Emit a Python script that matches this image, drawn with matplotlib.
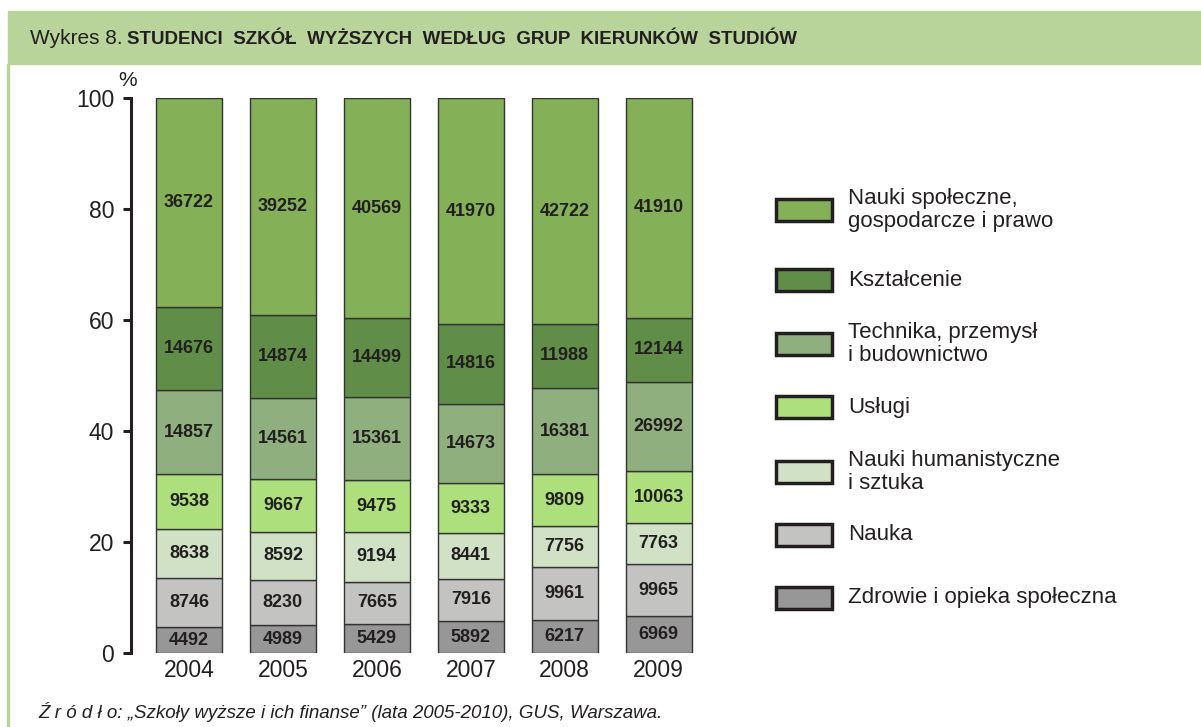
import matplotlib.pyplot as plt
from matplotlib.patches import Rectangle
import numpy as np

plt.rcParams['font.family'] = ['Liberation Sans', 'DejaVu Sans']

# dane (liczby studentów)
lata = ['2004', '2005', '2006', '2007', '2008', '2009']
zdrowie = [4492, 4989, 5429, 5892, 6217, 6969]
nauka = [8746, 8230, 7665, 7916, 9961, 9965]
humanistyczne = [8638, 8592, 9194, 8441, 7756, 7763]
uslugi = [9538, 9667, 9475, 9333, 9809, 10063]
technika = [14857, 14561, 15361, 14673, 16381, 16992]
# w zrodle dla 2009 wydrukowano 26992, a slupek narysowano dla ok. 16992
technika_opis = [14857, 14561, 15361, 14673, 16381, 26992]
ksztalcenie = [14676, 14874, 14499, 14816, 11988, 12144]
spoleczne = [36722, 39252, 40569, 41970, 42722, 41910]

serie = [zdrowie, nauka, humanistyczne, uslugi, technika, ksztalcenie, spoleczne]
opisy = [zdrowie, nauka, humanistyczne, uslugi, technika_opis, ksztalcenie, spoleczne]
nazwy = ['Zdrowie i opieka społeczna', 'Nauka', 'Nauki humanistyczne\ni sztuka',
         'Usługi', 'Technika, przemysł\ni budownictwo', 'Kształcenie',
         'Nauki społeczne,\ngospodarcze i prawo']
kolory = ['#979797', '#c3c3c1', '#d0e1c6', '#addf7c', '#8fb07e', '#608d47', '#84b157']

W, H = 1201, 727
fig = plt.figure(figsize=(W / 100, H / 100), dpi=100)
fig.patch.set_facecolor('white')
tekst = '#231f20'

# naglowek
zielony = '#b8d49a'
fig.patches.append(Rectangle((8 / W, 1 - 64 / H), 1 - 8 / W, 53 / H,
                             transform=fig.transFigure, color=zielony, zorder=0))
fig.patches.append(Rectangle((7 / W, 0), 2 / W, 1 - 64 / H,
                             transform=fig.transFigure, color=zielony, zorder=0))
t1 = fig.text(30 / W, 1 - 39 / H, 'Wykres 8.', fontsize=15, va='center', color=tekst)
r = fig.canvas.get_renderer()
x_konca = t1.get_window_extent(r).x1
fig.text((x_konca + 4) / W, 1 - 39 / H,
         'STUDENCI  SZKÓŁ  WYŻSZYCH  WEDŁUG  GRUP  KIERUNKÓW  STUDIÓW',
         fontsize=13.5, fontweight='bold', va='center', color=tekst)

ax = fig.add_axes([131 / W, 1 - 653 / H, (715 - 131) / W, (653 - 98) / H])
x = np.arange(len(lata))
dane = np.array(serie, dtype=float)
proc = dane / dane.sum(axis=0) * 100
dol = np.zeros(len(lata))
for i in range(len(serie)):
    ax.bar(x, proc[i], bottom=dol, width=0.7, color=kolory[i],
           edgecolor='#333333', linewidth=1)
    for j in range(len(lata)):
        ax.text(x[j], dol[j] + proc[i][j] / 2, str(opisy[i][j]), ha='center', va='center',
                fontsize=13, fontweight='bold', color=tekst)
    dol += proc[i]

ax.set_xlim(-0.617, 5.6)
ax.set_ylim(0, 100)
ax.set_yticks(range(0, 101, 20))
ax.set_xticks(x)
ax.set_xticklabels(lata)
for s in ['top', 'right', 'bottom']:
    ax.spines[s].set_visible(False)
ax.spines['left'].set_linewidth(2.2)
ax.spines['left'].set_color(tekst)
ax.tick_params(axis='y', length=6, width=2.2, labelsize=16.5, pad=6, colors=tekst)
ax.tick_params(axis='x', length=0, labelsize=16.5, pad=4, colors=tekst)
ax.set_facecolor('none')
fig.text(128 / W, 1 - 80 / H, '%', fontsize=15, ha='center', va='center', color=tekst)

# legenda
leg_y = [210, 280, 344, 407, 472, 535, 598]
for k, i in enumerate(range(len(serie) - 1, -1, -1)):
    yc = leg_y[k]
    fig.patches.append(Rectangle((776 / W, 1 - (yc + 11) / H), 56 / W, 22 / H,
                                 transform=fig.transFigure, facecolor=kolory[i],
                                 edgecolor=tekst, linewidth=2.5))
    fig.text(848 / W, 1 - yc / H, nazwy[i], fontsize=16, va='center', ha='left',
             color=tekst, linespacing=1.15)

fig.text(38 / W, 1 - 712 / H,
         'Ź r ó d ł o: „Szkoły wyższe i ich finanse” (lata 2005-2010), GUS, Warszawa.',
         fontsize=13.5, style='italic', va='center', color=tekst)

fig.savefig('out.png', dpi=100)
